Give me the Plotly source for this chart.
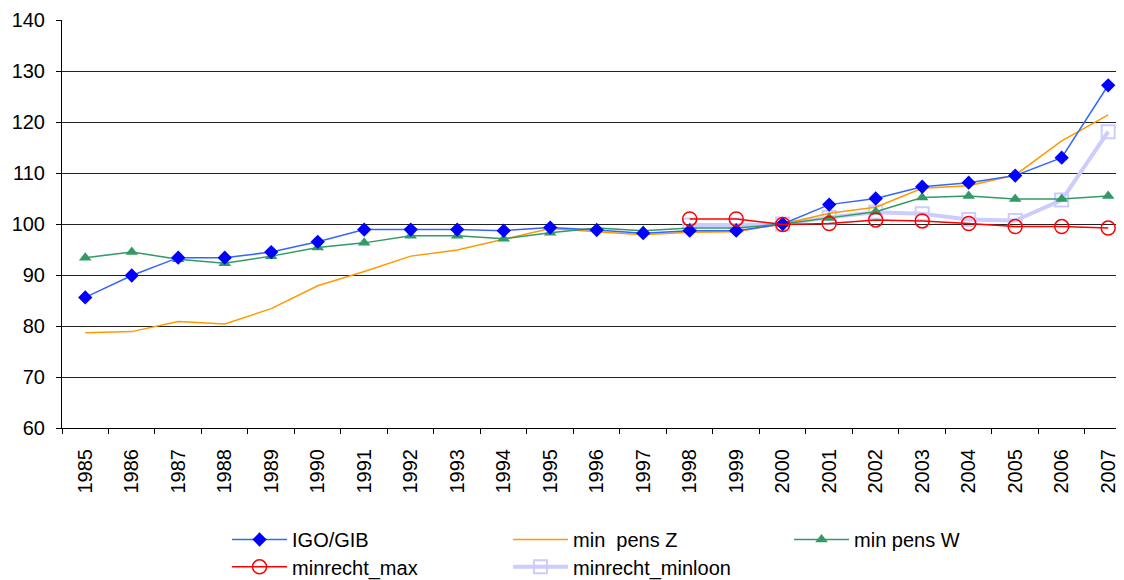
import plotly.graph_objects as go

years = [str(y) for y in range(1985, 2008)]
igo_gib = [85.6, 89.9, 93.4, 93.4, 94.5, 96.5, 98.9, 98.9, 98.9, 98.7, 99.3, 98.8, 98.2, 98.7, 98.7,
           100.0, 103.8, 105.0, 107.3, 108.1, 109.5, 113.0, 127.2]
min_pens_z = [78.7, 78.9, 80.9, 80.4, 83.4, 87.9, 90.7, 93.7, 94.9, 97.0, 99.1, 98.5, 97.9, 98.4, 98.5,
              100.0, 102.1, 103.3, 107.0, 107.5, 109.6, 116.3, 121.4]
min_pens_w = [93.4, 94.5, 93.1, 92.3, 93.7, 95.4, 96.3, 97.7, 97.7, 97.1, 98.3, 99.2, 98.7, 99.2, 99.2,
              100.0, 101.2, 102.4, 105.2, 105.5, 104.9, 104.9, 105.5]
minrecht_years = [str(y) for y in range(1998, 2008)]
minrecht_max = [101.0, 101.0, 99.9, 100.1, 100.8, 100.6, 100.1, 99.5, 99.5, 99.2]
minrecht_minloon = [99.8, 99.8, 100.0, 101.3, 102.3, 102.0, 100.9, 100.7, 104.7, 118.1]

fig = go.Figure()

fig.add_trace(go.Scatter(
    x=minrecht_years, y=minrecht_minloon, name="minrecht_minloon", mode="lines+markers",
    line=dict(color="#CCCCFF", width=4),
    marker=dict(symbol="square-open", size=13, color="#CCCCFF", line=dict(width=2, color="#CCCCFF")),
    legend="legend2", legendrank=2))
fig.add_trace(go.Scatter(
    x=years, y=min_pens_z, name="min  pens Z", mode="lines",
    line=dict(color="#FF9900", width=1.5), legend="legend", legendrank=2))
fig.add_trace(go.Scatter(
    x=years, y=min_pens_w, name="min pens W", mode="lines+markers",
    line=dict(color="#339966", width=1.5),
    marker=dict(symbol="triangle-up", size=11, color="#339966"), legend="legend", legendrank=3))
fig.add_trace(go.Scatter(
    x=years, y=igo_gib, name="IGO/GIB", mode="lines+markers",
    line=dict(color="#3366FF", width=1.5),
    marker=dict(symbol="diamond", size=11, color="#0000FF"), legend="legend", legendrank=1))
fig.add_trace(go.Scatter(
    x=minrecht_years, y=minrecht_max, name="minrecht_max", mode="lines+markers",
    line=dict(color="#FF0000", width=1.5),
    marker=dict(symbol="circle-open", size=14, color="#FF0000", line=dict(width=1.5, color="#FF0000")),
    legend="legend2", legendrank=1))

legend_common = dict(orientation="h", x=0.1554, xanchor="left", yanchor="top",
                     entrywidth=211, entrywidthmode="pixels", font=dict(size=20),
                     itemwidth=55, bgcolor="rgba(0,0,0,0)")

fig.update_layout(
    width=1116, height=572,
    margin=dict(l=54, r=0, t=12, b=152, autoexpand=False),
    paper_bgcolor="white", plot_bgcolor="white",
    font=dict(family="Liberation Sans, Arial, sans-serif", size=20, color="black"),
    legend=dict(y=-0.2255, **legend_common),
    legend2=dict(y=-0.2925, **legend_common),
    showlegend=True,
)
fig.update_xaxes(
    type="category", categoryorder="array", categoryarray=years,
    range=[-0.5, 22.34], tickangle=-90, showgrid=False,
    showline=True, linecolor="black", linewidth=1,
    ticks="outside", ticklen=5, tickcolor="black", tickson="boundaries",
    tickfont=dict(size=20), ticklabelstandoff=12, zeroline=False)
fig.update_yaxes(
    range=[60, 140], dtick=10, showgrid=True, gridcolor="#222222", gridwidth=1,
    showline=True, linecolor="black", linewidth=1,
    ticks="outside", ticklen=5, tickcolor="black",
    tickfont=dict(size=20), ticklabelstandoff=7, zeroline=False)

fig.write_html("out.html")
